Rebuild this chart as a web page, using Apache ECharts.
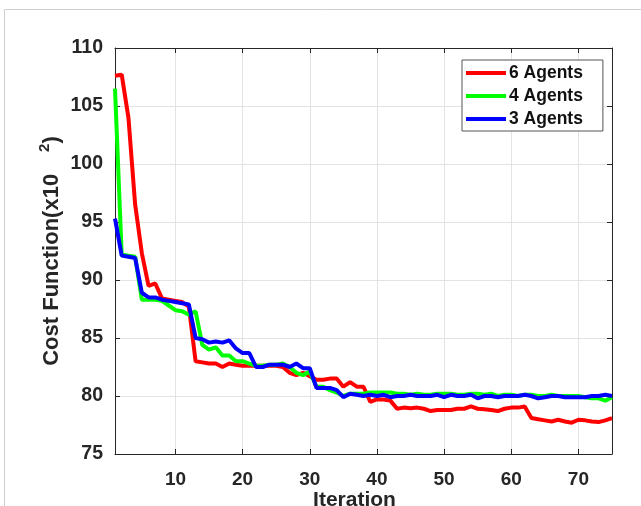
<!DOCTYPE html>
<html>
<head>
<meta charset="UTF-8">
<title>Cost Function</title>
<script src="https://cdn.jsdelivr.net/npm/echarts@6/dist/echarts.min.js"></script>
<style>
    body { margin: 0; background: #fff; }
    #root { width: 641px; height: 506px; }
</style>
</head>
<body>
<div id="root"></div>
<script>
    var seriesNames = ['6 Agents', '4 Agents', '3 Agents'];
    var colors = ['#ff0000', '#00ff00', '#0000ff'];
    var xTicks = [10, 20, 30, 40, 50, 60, 70];
    var yTicks = [75, 80, 85, 90, 95, 100, 105, 110];

    var agents6 = [107.6, 107.7, 104.0, 96.5, 92.3, 89.5, 89.7, 88.4, 88.3, 88.2,
        88.1, 87.7, 83.0, 82.9, 82.8, 82.8, 82.5, 82.8, 82.7, 82.6,
        82.6, 82.6, 82.6, 82.6, 82.6, 82.5, 82.0, 81.8, 82.0, 81.7,
        81.4, 81.4, 81.5, 81.5, 80.8, 81.2, 80.8, 80.8, 79.5, 79.7,
        79.7, 79.6, 78.9, 79.0, 78.95, 79.0, 78.9, 78.7, 78.8, 78.8,
        78.8, 78.9, 78.9, 79.1, 78.9, 78.85, 78.8, 78.7, 78.9, 79.0,
        79.0, 79.1, 78.1, 78.0, 77.9, 77.8, 77.95, 77.8, 77.7, 77.95,
        77.9, 77.8, 77.75, 77.9, 78.1];
    var agents4 = [106.5, 92.2, 92.1, 92.0, 88.3, 88.3, 88.3, 88.2, 87.8, 87.4,
        87.3, 87.0, 87.3, 84.4, 84.0, 84.2, 83.5, 83.5, 83.0, 83.0,
        82.8, 82.6, 82.6, 82.7, 82.7, 82.8, 82.5, 82.0, 81.8, 82.1,
        80.8, 80.8, 80.5, 80.3, 80.0, 80.2, 80.2, 80.2, 80.3, 80.3,
        80.3, 80.3, 80.2, 80.2, 80.1, 80.2, 80.1, 80.1, 80.2, 80.2,
        80.2, 80.1, 80.1, 80.2, 80.2, 80.1, 80.2, 80.0, 80.1, 80.1,
        80.0, 80.1, 80.1, 80.0, 80.0, 80.1, 80.0, 80.0, 80.0, 80.0,
        79.9, 79.8, 79.8, 79.6, 79.9];
    var agents3 = [95.3, 92.1, 92.0, 91.9, 88.9, 88.5, 88.5, 88.3, 88.2, 88.1,
        88.0, 87.9, 85.0, 84.9, 84.6, 84.7, 84.6, 84.8, 84.1, 83.7,
        83.7, 82.5, 82.5, 82.7, 82.7, 82.7, 82.5, 82.8, 82.4, 82.4,
        80.7, 80.7, 80.7, 80.5, 79.9, 80.2, 80.1, 80.0, 80.1, 80.0,
        80.1, 79.9, 80.0, 80.0, 80.1, 80.0, 80.0, 80.0, 80.1, 79.9,
        80.1, 80.0, 80.0, 80.1, 79.8, 80.0, 80.0, 79.9, 80.0, 80.0,
        80.0, 80.1, 80.0, 79.8, 79.9, 80.0, 80.0, 79.9, 79.9, 79.9,
        79.9, 80.0, 80.0, 80.1, 80.0];

    function pairs(values) {
        return values.map(function (v, i) { return [i + 1, v]; });
    }

    var font = 'Liberation Sans';
    var frameColor = '#262626';

    var chart = echarts.init(document.getElementById('root'));

    var baseX = {
        type: 'value', min: 1, max: 75,
        axisLine: { show: true, onZero: false, lineStyle: { color: frameColor, width: 1 } },
        axisTick: { show: true, inside: true, length: 5, customValues: xTicks, lineStyle: { color: frameColor } },
        splitLine: { show: false }
    };
    var baseY = {
        type: 'value', min: 75, max: 110, interval: 5,
        axisLine: { show: true, onZero: false, lineStyle: { color: frameColor, width: 1 } },
        axisTick: { show: true, inside: true, length: 5, lineStyle: { color: frameColor } },
        splitLine: { show: false }
    };

    chart.setOption({
        animation: false,
        backgroundColor: '#fff',
        graphic: [{
            type: 'rect',
            shape: { x: 4.5, y: 9.5, width: 700, height: 600 },
            style: { fill: null, stroke: '#cfcfcf', lineWidth: 1 },
            silent: true
        }],
        grid: { left: 115, right: 29, top: 48, bottom: 52, outerBoundsMode: 'none', containLabel: false },
        legend: {
            data: seriesNames,
            orient: 'vertical',
            left: 462, top: 60,
            icon: 'rect',
            itemWidth: 40, itemHeight: 4,
            itemGap: 5,
            padding: [4, 20, 3, 4],
            borderColor: '#555', borderWidth: 1,
            backgroundColor: '#fff',
            textStyle: { fontFamily: font, fontWeight: 'bold', fontSize: 17.5, color: '#111', lineHeight: 17, padding: [0, 0, 0, -2] }
        },
        xAxis: [
            Object.assign({}, baseX, {
                position: 'bottom',
                name: 'Iteration', nameLocation: 'middle', nameGap: 36, nameMoveOverlap: false,
                nameTextStyle: { fontFamily: font, fontWeight: 'bold', fontSize: 21, color: '#262626', padding: [0, 18, 0, 0] },
                axisLabel: { show: true, customValues: xTicks, margin: 16, fontFamily: font, fontWeight: 'bold', fontSize: 19, color: '#262626' },
                splitLine: { show: true, lineStyle: { color: '#e3e3e3', width: 1 } }
            }),
            Object.assign({}, baseX, { position: 'top', axisLabel: { show: false } })
        ],
        yAxis: [
            Object.assign({}, baseY, {
                position: 'left',
                name: 'Cost Function(x10{g|}{s|2}{p|)}',
                nameLocation: 'middle', nameGap: 48, nameRotate: 90, nameMoveOverlap: false,
                nameTextStyle: {
                    fontFamily: font, fontWeight: 'bold', fontSize: 22, color: '#262626', lineHeight: 30,
                    rich: {
                        g: { width: 22 },
                        s: { fontFamily: font, fontWeight: 'bold', fontSize: 15, color: '#262626', verticalAlign: 'top', lineHeight: 14 },
                        p: { fontFamily: font, fontWeight: 'bold', fontSize: 22, color: '#262626' }
                    }
                },
                axisLabel: { show: true, margin: 12, fontFamily: font, fontWeight: 'bold', fontSize: 19.5, color: '#262626' },
                splitLine: { show: true, lineStyle: { color: '#e3e3e3', width: 1 } }
            }),
            Object.assign({}, baseY, { position: 'right', axisLabel: { show: false } })
        ],
        series: [agents6, agents4, agents3].map(function (vals, i) {
            return {
                name: seriesNames[i],
                type: 'line',
                xAxisIndex: 0, yAxisIndex: 0,
                data: pairs(vals),
                showSymbol: false,
                symbol: 'none',
                lineStyle: { color: colors[i], width: 4 },
                itemStyle: { color: colors[i] },
                z: 2 + i
            };
        })
    });
</script>
</body>
</html>
